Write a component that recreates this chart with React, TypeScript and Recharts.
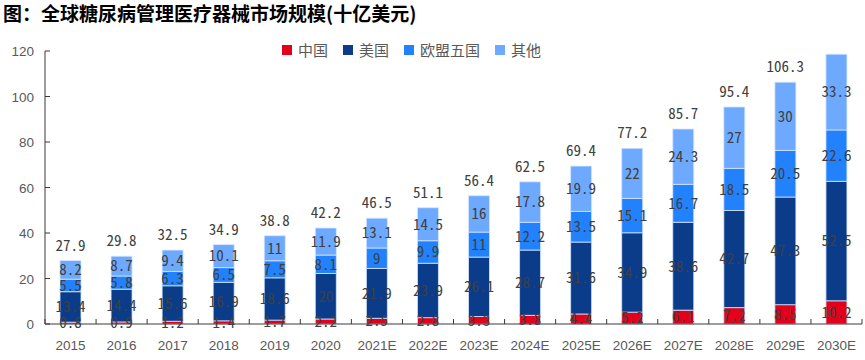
import React from 'react';
import { BarChart, Bar, XAxis, YAxis, LabelList } from 'recharts';

const categories = ['2015', '2016', '2017', '2018', '2019', '2020', '2021E', '2022E', '2023E', '2024E', '2025E', '2026E', '2027E', '2028E', '2029E', '2030E'];
const china = [0.8, 0.9, 1.2, 1.4, 1.7, 2.2, 2.5, 2.8, 3.3, 3.8, 4.4, 5.2, 6.1, 7.2, 8.5, 10.2];
const usa = [13.4, 14.4, 15.6, 16.9, 18.6, 20, 21.9, 23.9, 26.1, 28.7, 31.6, 34.9, 38.6, 42.7, 47.3, 52.5];
const eu5 = [5.5, 5.8, 6.3, 6.5, 7.5, 8.1, 9, 9.9, 11, 12.2, 13.5, 15.1, 16.7, 18.5, 20.5, 22.6];
const others = [8.2, 8.7, 9.4, 10.1, 11, 11.9, 13.1, 14.5, 16, 17.8, 19.9, 22, 24.3, 27, 30, 33.3];
const totals = [27.9, 29.8, 32.5, 34.9, 38.8, 42.2, 46.5, 51.1, 56.4, 62.5, 69.4, 77.2, 85.7, 95.4, 106.3, null];
const yTicks = [0, 20, 40, 60, 80, 100, 120];

const seriesKeys = ['china', 'usa', 'eu5', 'others'];
const seriesNames = ['中国', '美国', '欧盟五国', '其他'];
const seriesColors = ['#e4001a', '#0b3c8a', '#2282fe', '#6ca9ff'];

const title = '图：全球糖尿病管理医疗器械市场规模(十亿美元)';

const data = categories.map((c, i) => ({
  name: c,
  china: china[i],
  usa: usa[i],
  eu5: eu5[i],
  others: others[i],
  total: totals[i],
}));

const AXIS_COLOR = '#3a3a3a';
const TICK_COLOR = '#595959';
const LABEL_COLOR = '#404040';
const LABEL_FONT = '"Noto Sans Mono CJK SC", "Liberation Mono", monospace';
const LABEL_SIZE = 15;
const TICK_FONT = '"Liberation Sans", Arial, sans-serif';

const XTick = (props: any) => {
  const { x, y, payload, index, visibleTicksCount } = props;
  const off = payload && typeof payload.offset === 'number' && payload.offset > 0 ? payload.offset : 25.5;
  const last = index === (visibleTicksCount ?? categories.length) - 1;
  return (
    <g>
      <line x1={x - off} x2={x - off} y1={y} y2={y - 5} stroke={AXIS_COLOR} strokeWidth={1} />
      {last && <line x1={x + off} x2={x + off} y1={y} y2={y - 5} stroke={AXIS_COLOR} strokeWidth={1} />}
      <text x={x} y={y + 26} textAnchor="middle" fill={TICK_COLOR} fontSize={13.5} fontFamily={TICK_FONT}>
        {payload.value}
      </text>
    </g>
  );
};

const YTick = (props: any) => {
  const { x, y, payload } = props;
  return (
    <g>
      <line x1={x} x2={x + 5} y1={y} y2={y} stroke={AXIS_COLOR} strokeWidth={1} />
      <text x={x - 11} y={y + 5} textAnchor="end" fill={TICK_COLOR} fontSize={13.5} fontFamily={TICK_FONT}>
        {payload.value}
      </text>
    </g>
  );
};

const TotalLabel = (props: any) => {
  const { x, y, width, value } = props;
  if (value === null || value === undefined) return null;
  return (
    <text x={x + width / 2} y={y - 10} textAnchor="middle" fill={LABEL_COLOR} fontSize={LABEL_SIZE} fontFamily={LABEL_FONT}>
      {String(value)}
    </text>
  );
};

export default function App() {
  return (
    <div style={{ position: 'absolute', left: 0, top: 0, width: 865, height: 360, background: '#fff' }}>
      <div
        style={{
          position: 'absolute',
          left: 3,
          top: 3,
          fontSize: 19,
          lineHeight: '19px',
          fontWeight: 'bold',
          fontFamily: '"Noto Sans CJK SC", sans-serif',
          color: '#000',
          whiteSpace: 'nowrap',
        }}
      >
        {title}
      </div>
      <div
        style={{
          position: 'absolute',
          left: 282,
          top: 40,
          display: 'flex',
          alignItems: 'center',
          height: 20,
          fontFamily: '"Noto Sans CJK SC", sans-serif',
          fontSize: 15,
          color: TICK_COLOR,
          whiteSpace: 'nowrap',
        }}
      >
        {seriesNames.map((n, i) => (
          <div key={n} style={{ display: 'flex', alignItems: 'center', marginRight: 15 }}>
            <div style={{ width: 10, height: 10, background: seriesColors[i], marginRight: 6 }} />
            <span style={{ lineHeight: '20px' }}>{n}</span>
          </div>
        ))}
      </div>
      <BarChart
        width={865}
        height={360}
        data={data}
        margin={{ top: 51, right: 3, left: 0, bottom: 0 }}
        barSize={21}
        style={{ position: 'absolute', left: 0, top: 0 }}
      >
        <XAxis
          dataKey="name"
          height={36}
          interval={0}
          tickLine={false}
          tickSize={0}
          tickMargin={0}
          axisLine={{ stroke: AXIS_COLOR }}
          tick={<XTick />}
        />
        <YAxis
          width={45}
          domain={[0, 120]}
          ticks={yTicks}
          interval={0}
          axisLine={{ stroke: AXIS_COLOR }}
          tickLine={false}
          tickSize={0}
          tickMargin={0}
          tick={<YTick />}
        />
        {seriesKeys.map((k, i) => (
          <Bar
            key={k}
            dataKey={k}
            name={seriesNames[i]}
            stackId="a"
            fill={seriesColors[i]}
            stroke="#d6e6ff"
            strokeWidth={0.8}
            isAnimationActive={false}
          >
            <LabelList dataKey={k} position="center" fill={LABEL_COLOR} fontSize={LABEL_SIZE} fontFamily={LABEL_FONT} />
            {k === 'others' && <LabelList dataKey="total" content={<TotalLabel />} />}
          </Bar>
        ))}
      </BarChart>
    </div>
  );
}
